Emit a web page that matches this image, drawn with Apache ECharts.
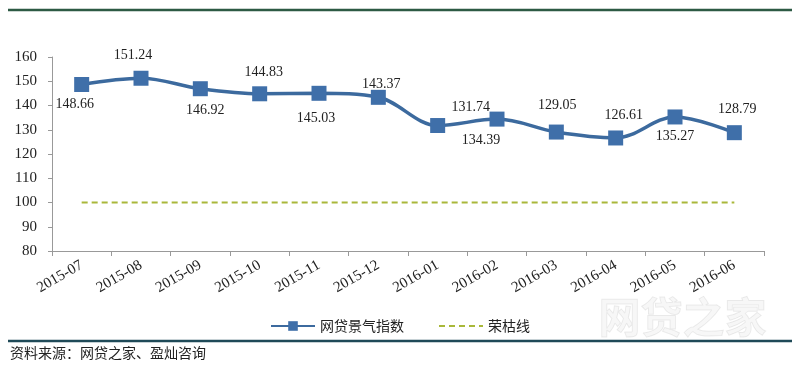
<!DOCTYPE html>
<html><head><meta charset="utf-8">
<script src="https://cdn.jsdelivr.net/npm/echarts@6/dist/echarts.min.js"></script>
<style>html,body{margin:0;padding:0;background:#fff}#c{width:800px;height:367px}</style>
</head><body><div id="c"></div>
<script>
const categories = ['2015-07','2015-08','2015-09','2015-10','2015-11','2015-12','2016-01','2016-02','2016-03','2016-04','2016-05','2016-06'];
const indexValues = [148.66,151.24,146.92,144.83,145.03,143.37,131.74,134.39,129.05,126.61,135.27,128.79];
const boomBustLine = [100,100,100,100,100,100,100,100,100,100,100,100];
const yTicks = {min: 80, max: 160, interval: 10};

// label placement per point [position, dx, dy]
const labelPlace = [
  ['bottom',-7,0],['top',-8,-3],['bottom',5,2],['top',4,-2],['bottom',-3,6],['top',3,7],
  ['top',33,1],['bottom',-16,2],['top',1,-7],['top',8,-3],['bottom',0,0],['top',3,-4]
];

const chart = echarts.init(document.getElementById('c'), null, {renderer:'canvas'});
const serif = '"Liberation Serif","DejaVu Serif",serif';
const cjk = '"Noto Sans CJK SC","Noto Sans",sans-serif';
chart.setOption({
  animation:false,
  grid:{left:52,right:36,top:57,bottom:116},
  legend:{
    top:314, left:'center',
    itemWidth:44, itemHeight:12, itemGap:34,
    textStyle:{fontFamily:cjk,fontSize:14,color:'#222'},
    data:['网贷景气指数',{name:'荣枯线',itemStyle:{opacity:0}}]
  },
  xAxis:{
    type:'category', data:categories, boundaryGap:true,
    axisLine:{lineStyle:{color:'#999',width:1}},
    axisTick:{show:true,length:5,alignWithLabel:false,lineStyle:{color:'#999'}},
    axisLabel:{rotate:30,interval:0,fontFamily:serif,fontSize:15,color:'#222',margin:13}
  },
  yAxis:{
    type:'value', min:yTicks.min, max:yTicks.max, interval:yTicks.interval,
    axisLine:{show:true,lineStyle:{color:'#999',width:1}},
    axisTick:{show:true,length:4,lineStyle:{color:'#999'}},
    splitLine:{show:false},
    axisLabel:{fontFamily:serif,fontSize:15,color:'#222',margin:15}
  },
  series:[
    {
      name:'网贷景气指数', type:'line', smooth:0.35,
      data:indexValues.map((v,i)=>({value:v,label:{position:labelPlace[i][0],offset:[labelPlace[i][1],labelPlace[i][2]]}})),
      symbol:'rect', symbolSize:15,
      lineStyle:{color:'#3c6a9e',width:3.5},
      itemStyle:{color:'#3f6fa9'},
      label:{show:true,fontFamily:serif,fontSize:14,color:'#222',distance:5},
      z:3
    },
    {
      name:'荣枯线', type:'line',
      data:boomBustLine, symbol:'none',
      lineStyle:{color:'#a9b83a',width:2,type:[6,4]},
      itemStyle:{color:'#a9b83a'},
      z:2
    }
  ],
  graphic:[
    {type:'line',shape:{x1:8,y1:10,x2:792,y2:10},style:{stroke:'#2d5a44',lineWidth:2.5}},
    {type:'line',shape:{x1:8,y1:341,x2:792,y2:341},style:{stroke:'#1f4a58',lineWidth:2.5}},
    {type:'text',left:10,top:346,style:{text:'资料来源：网贷之家、盈灿咨询',font:'14px '+cjk,fill:'#222'}},
    {type:'text',left:598,top:296,z:-1,style:{text:'网贷之家',font:'bold 42px '+cjk,fill:'rgba(0,0,0,0.03)',stroke:'rgba(0,0,0,0.08)',lineWidth:1}}
  ]
});
</script></body></html>
